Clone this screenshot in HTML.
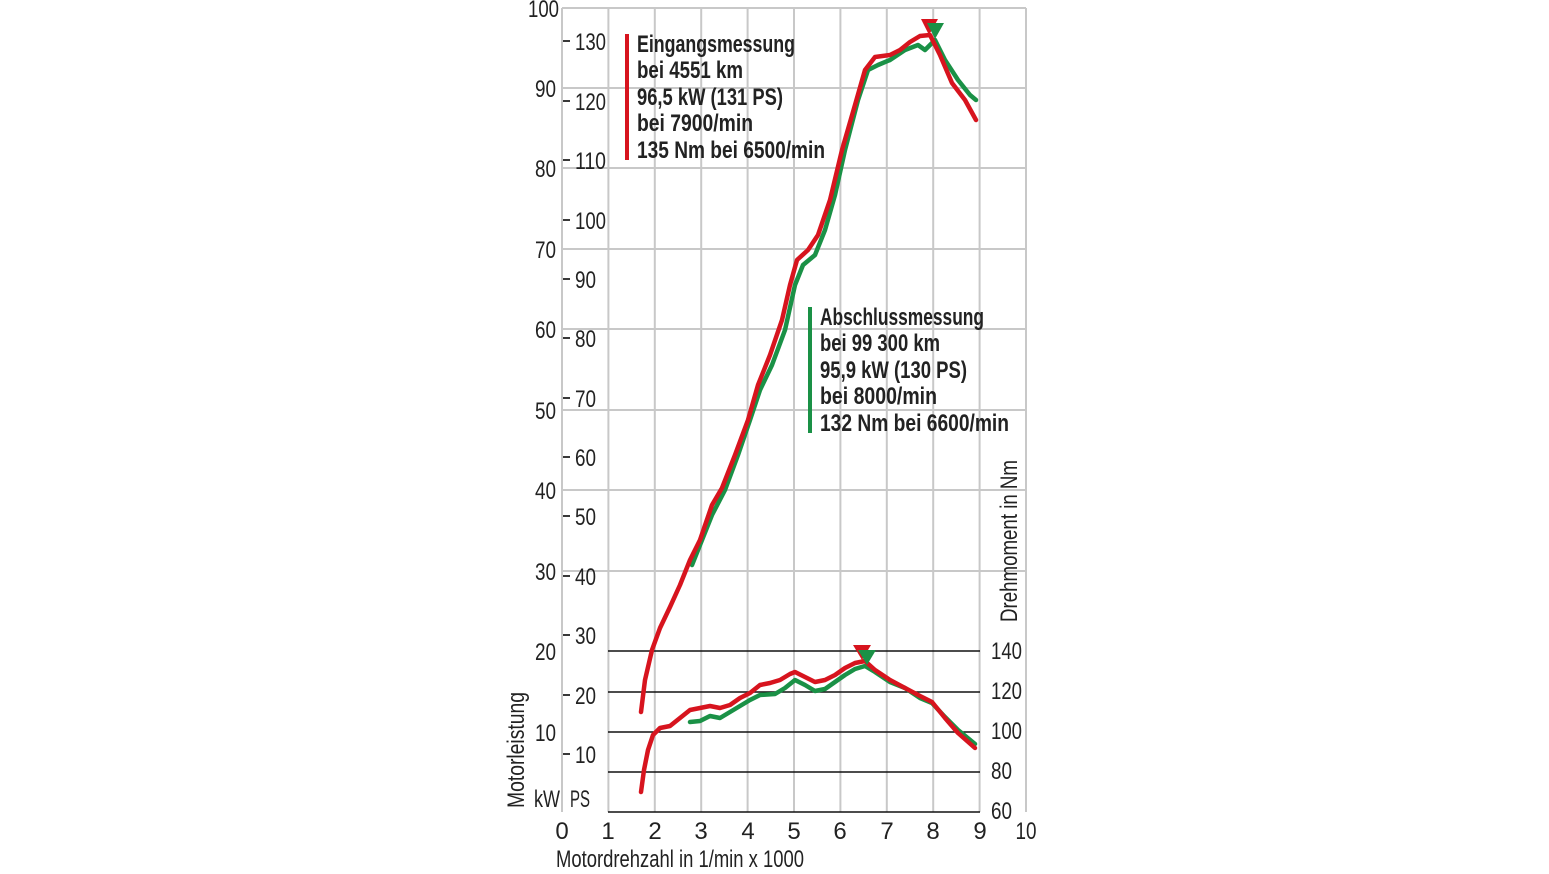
<!DOCTYPE html>
<html><head><meta charset="utf-8"><style>
html,body{margin:0;padding:0;background:#fff;}
svg{display:block;}
text{font-family:"Liberation Sans",sans-serif;fill:#222;}
</style></head><body>
<svg width="1549" height="874" viewBox="0 0 1549 874" xmlns="http://www.w3.org/2000/svg">
<g stroke="#c8c8c8" stroke-width="2">
<line x1="562" y1="8" x2="562" y2="812"/>
<line x1="608.4" y1="8" x2="608.4" y2="812"/><line x1="654.8" y1="8" x2="654.8" y2="812"/>
<line x1="701.2" y1="8" x2="701.2" y2="812"/><line x1="747.6" y1="8" x2="747.6" y2="812"/>
<line x1="794" y1="8" x2="794" y2="812"/><line x1="840.4" y1="8" x2="840.4" y2="812"/>
<line x1="886.8" y1="8" x2="886.8" y2="812"/><line x1="933.2" y1="8" x2="933.2" y2="812"/>
<line x1="979.6" y1="8" x2="979.6" y2="812"/><line x1="1026" y1="8" x2="1026" y2="812"/>
<line x1="562" y1="8" x2="1026" y2="8"/><line x1="562" y1="88" x2="1026" y2="88"/>
<line x1="562" y1="168" x2="1026" y2="168"/><line x1="562" y1="249" x2="1026" y2="249"/>
<line x1="562" y1="329" x2="1026" y2="329"/><line x1="562" y1="410" x2="1026" y2="410"/>
<line x1="562" y1="490" x2="1026" y2="490"/><line x1="562" y1="571" x2="1026" y2="571"/>
</g>
<g stroke="#111" stroke-width="1.6">
<line x1="608" y1="651" x2="980" y2="651"/><line x1="608" y1="692" x2="980" y2="692"/>
<line x1="608" y1="732" x2="980" y2="732"/><line x1="608" y1="772" x2="980" y2="772"/>
<line x1="608" y1="812" x2="980" y2="812"/>
</g>
<g stroke="#222" stroke-width="1.8">
<line x1="563" y1="41" x2="570" y2="41"/><line x1="563" y1="101" x2="570" y2="101"/>
<line x1="563" y1="160" x2="570" y2="160"/><line x1="563" y1="220" x2="570" y2="220"/>
<line x1="563" y1="279" x2="570" y2="279"/><line x1="563" y1="338" x2="570" y2="338"/>
<line x1="563" y1="398" x2="570" y2="398"/><line x1="563" y1="457" x2="570" y2="457"/>
<line x1="563" y1="516" x2="570" y2="516"/><line x1="563" y1="576" x2="570" y2="576"/>
<line x1="563" y1="635" x2="570" y2="635"/><line x1="563" y1="695" x2="570" y2="695"/>
<line x1="563" y1="754" x2="570" y2="754"/>
</g>
<g font-size="24" text-anchor="end" lengthAdjust="spacingAndGlyphs">
<text x="559" y="17" textLength="31" lengthAdjust="spacingAndGlyphs">100</text>
<text x="556" y="97" textLength="21" lengthAdjust="spacingAndGlyphs">90</text>
<text x="556" y="177" textLength="21" lengthAdjust="spacingAndGlyphs">80</text>
<text x="556" y="258" textLength="21" lengthAdjust="spacingAndGlyphs">70</text>
<text x="556" y="338" textLength="21" lengthAdjust="spacingAndGlyphs">60</text>
<text x="556" y="419" textLength="21" lengthAdjust="spacingAndGlyphs">50</text>
<text x="556" y="499" textLength="21" lengthAdjust="spacingAndGlyphs">40</text>
<text x="556" y="580" textLength="21" lengthAdjust="spacingAndGlyphs">30</text>
<text x="556" y="660" textLength="21" lengthAdjust="spacingAndGlyphs">20</text>
<text x="556" y="741" textLength="21" lengthAdjust="spacingAndGlyphs">10</text>
</g>
<g font-size="24">
<text x="575" y="50" textLength="31" lengthAdjust="spacingAndGlyphs">130</text>
<text x="575" y="110" textLength="31" lengthAdjust="spacingAndGlyphs">120</text>
<text x="575" y="169" textLength="31" lengthAdjust="spacingAndGlyphs">110</text>
<text x="575" y="229" textLength="31" lengthAdjust="spacingAndGlyphs">100</text>
<text x="575" y="288" textLength="21" lengthAdjust="spacingAndGlyphs">90</text>
<text x="575" y="347" textLength="21" lengthAdjust="spacingAndGlyphs">80</text>
<text x="575" y="407" textLength="21" lengthAdjust="spacingAndGlyphs">70</text>
<text x="575" y="466" textLength="21" lengthAdjust="spacingAndGlyphs">60</text>
<text x="575" y="525" textLength="21" lengthAdjust="spacingAndGlyphs">50</text>
<text x="575" y="585" textLength="21" lengthAdjust="spacingAndGlyphs">40</text>
<text x="575" y="644" textLength="21" lengthAdjust="spacingAndGlyphs">30</text>
<text x="575" y="704" textLength="21" lengthAdjust="spacingAndGlyphs">20</text>
<text x="575" y="763" textLength="21" lengthAdjust="spacingAndGlyphs">10</text>
<text x="534" y="807" textLength="26" lengthAdjust="spacingAndGlyphs">kW</text>
<text x="570" y="807" textLength="20" lengthAdjust="spacingAndGlyphs">PS</text>
<text x="991" y="659" textLength="31" lengthAdjust="spacingAndGlyphs">140</text>
<text x="991" y="699" textLength="31" lengthAdjust="spacingAndGlyphs">120</text>
<text x="991" y="739" textLength="31" lengthAdjust="spacingAndGlyphs">100</text>
<text x="991" y="779" textLength="21" lengthAdjust="spacingAndGlyphs">80</text>
<text x="991" y="819" textLength="21" lengthAdjust="spacingAndGlyphs">60</text>
</g>
<g font-size="24" text-anchor="middle">
<text x="562" y="839">0</text><text x="608" y="839">1</text><text x="655" y="839">2</text>
<text x="701" y="839">3</text><text x="748" y="839">4</text><text x="794" y="839">5</text>
<text x="840" y="839">6</text><text x="887" y="839">7</text><text x="933" y="839">8</text>
<text x="980" y="839">9</text><text x="1026" y="839" textLength="21" lengthAdjust="spacingAndGlyphs">10</text>
</g>
<text x="556" y="867" font-size="24" textLength="248" lengthAdjust="spacingAndGlyphs">Motordrehzahl in 1/min x 1000</text>
<text transform="translate(524,808) rotate(-90)" font-size="24" textLength="116" lengthAdjust="spacingAndGlyphs">Motorleistung</text>
<text transform="translate(1017,622) rotate(-90)" font-size="24" textLength="162" lengthAdjust="spacingAndGlyphs">Drehmoment in Nm</text>
<g font-size="24" font-weight="bold">
<line x1="627" y1="34" x2="627" y2="160" stroke="#d7141e" stroke-width="4"/>
<text x="637" y="52" textLength="158" lengthAdjust="spacingAndGlyphs">Eingangsmessung</text>
<text x="637" y="78" textLength="106" lengthAdjust="spacingAndGlyphs">bei 4551 km</text>
<text x="637" y="105" textLength="146" lengthAdjust="spacingAndGlyphs">96,5 kW (131 PS)</text>
<text x="637" y="131" textLength="116" lengthAdjust="spacingAndGlyphs">bei 7900/min</text>
<text x="637" y="158" textLength="188" lengthAdjust="spacingAndGlyphs">135 Nm bei 6500/min</text>
<line x1="810" y1="307" x2="810" y2="433" stroke="#1a9146" stroke-width="4"/>
<text x="820" y="325" textLength="164" lengthAdjust="spacingAndGlyphs">Abschlussmessung</text>
<text x="820" y="351" textLength="120" lengthAdjust="spacingAndGlyphs">bei 99 300 km</text>
<text x="820" y="378" textLength="147" lengthAdjust="spacingAndGlyphs">95,9 kW (130 PS)</text>
<text x="820" y="404" textLength="117" lengthAdjust="spacingAndGlyphs">bei 8000/min</text>
<text x="820" y="431" textLength="189" lengthAdjust="spacingAndGlyphs">132 Nm bei 6600/min</text>
</g>
<g fill="none" stroke-width="4.5" stroke-linejoin="round" stroke-linecap="round">
<polyline stroke="#1a9146" points="692,565 700,545 712,515 725,490 738,455 750,420 760,390 772,365 785,330 795,285 803,265 815,255 825,230 835,195 845,150 858,100 868,70 878,65 890,60 905,50 918,45 925,50 935,40 945,60 958,80 970,95 976,100"/>
<polyline stroke="#d7141e" points="641,712 645,680 652,650 660,628 670,607 680,585 690,560 700,540 712,505 722,488 735,455 748,420 758,385 770,355 782,320 790,285 797,260 808,250 818,235 830,200 842,150 855,105 865,70 875,57 890,55 900,50 910,42 920,36 930,35 940,55 952,83 965,100 976,120"/>
<polyline stroke="#1a9146" points="690,722 700,721 710,716 720,718 730,712 740,706 750,700 760,695 775,694 785,688 795,680 805,685 815,691 825,689 835,682 845,675 855,669 865,666 875,672 890,682 905,688 920,698 932,703 945,717 958,730 975,744"/>
<polyline stroke="#d7141e" points="641,792 644,770 648,750 653,735 660,728 670,726 680,718 690,710 700,708 710,706 720,708 730,705 740,698 750,693 760,685 770,683 780,680 790,674 795,672 805,677 815,682 825,680 835,675 845,668 855,663 865,661 875,670 890,680 905,688 920,696 932,702 945,718 958,733 975,748"/>
</g>
<polygon points="921,19 938,19 929,35" fill="#d7141e"/>
<polygon points="927,23 944,23 935,39" fill="#1a9146"/>
<polygon points="853,645 871,645 862,660" fill="#d7141e"/>
<polygon points="858,650 876,650 867,665" fill="#1a9146"/>
</svg>
</body></html>
